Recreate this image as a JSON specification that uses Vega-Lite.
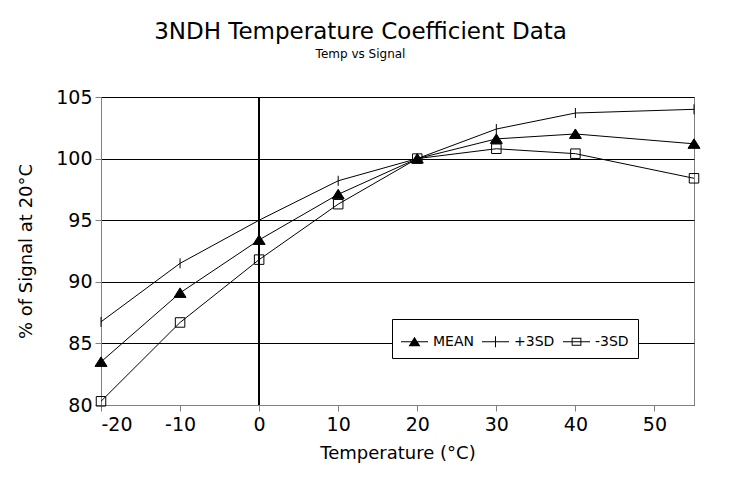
{
  "$schema": "https://vega.github.io/schema/vega-lite/v6.json",
  "width": 593,
  "height": 308,
  "autosize": "none",
  "padding": {"left": 101, "top": 97, "right": 39, "bottom": 90},
  "background": "white",
  "title": {
    "text": "3NDH Temperature Coefficient Data",
    "subtitle": "Temp vs Signal",
    "fontSize": 23,
    "fontWeight": "normal",
    "subtitleFontSize": 12,
    "anchor": "middle",
    "dx": -37,
    "offset": 28,
    "subtitlePadding": 5,
    "color": "black",
    "subtitleColor": "black"
  },
  "data": {
    "values": [
      {"t": -20, "series": "MEAN", "v": 83.5},
      {"t": -10, "series": "MEAN", "v": 89.1},
      {"t": 0, "series": "MEAN", "v": 93.4},
      {"t": 10, "series": "MEAN", "v": 97.1},
      {"t": 20, "series": "MEAN", "v": 100.0},
      {"t": 30, "series": "MEAN", "v": 101.6},
      {"t": 40, "series": "MEAN", "v": 102.0},
      {"t": 55, "series": "MEAN", "v": 101.2},
      {"t": -20, "series": "+3SD", "v": 86.75},
      {"t": -10, "series": "+3SD", "v": 91.5},
      {"t": 0, "series": "+3SD", "v": 95.0},
      {"t": 10, "series": "+3SD", "v": 98.2},
      {"t": 20, "series": "+3SD", "v": 100.0},
      {"t": 30, "series": "+3SD", "v": 102.4},
      {"t": 40, "series": "+3SD", "v": 103.7},
      {"t": 55, "series": "+3SD", "v": 104.0},
      {"t": -20, "series": "-3SD", "v": 80.3},
      {"t": -10, "series": "-3SD", "v": 86.7},
      {"t": 0, "series": "-3SD", "v": 91.8},
      {"t": 10, "series": "-3SD", "v": 96.3},
      {"t": 20, "series": "-3SD", "v": 100.0},
      {"t": 30, "series": "-3SD", "v": 100.8},
      {"t": 40, "series": "-3SD", "v": 100.4},
      {"t": 55, "series": "-3SD", "v": 98.4}
    ]
  },
  "layer": [
    {
      "mark": {"type": "rule", "color": "black", "strokeWidth": 0.9},
      "encoding": {
        "x": {"datum": 0, "type": "quantitative", "scale": {"domain": [-20, 55], "nice": false, "zero": false}}
      }
    },
    {
      "mark": {"type": "line", "color": "black", "strokeWidth": 1},
      "encoding": {
        "x": {"field": "t", "type": "quantitative", "scale": {"domain": [-20, 55], "nice": false, "zero": false},
          "axis": {"values": [-20, -10, 0, 10, 20, 30, 40, 50], "labelExpr": "'' + datum.value", "grid": false, "title": "Temperature (°C)", "labelFontSize": 19, "titleFontSize": 18, "titleFontWeight": "normal", "tickSize": 6, "tickColor": "#808080", "domainColor": "#808080", "labelColor": "black", "titleColor": "black", "labelPadding": 4, "titlePadding": 10}},
        "y": {"field": "v", "type": "quantitative", "scale": {"domain": [80, 105], "nice": false, "zero": false},
          "axis": {"values": [80, 85, 90, 95, 100, 105], "grid": true, "gridColor": "black", "gridWidth": 1, "title": "% of Signal at 20°C", "labelFontSize": 19, "titleFontSize": 18, "titleFontWeight": "normal", "tickSize": 6, "tickColor": "#808080", "domainColor": "#808080", "labelColor": "black", "titleColor": "black", "labelPadding": 3, "titlePadding": 20}},
        "detail": {"field": "series"},
        "order": {"field": "t"}
      }
    },
    {
      "mark": {"type": "point", "opacity": 1, "stroke": "black", "strokeWidth": 1, "size": 100},
      "encoding": {
        "x": {"field": "t", "type": "quantitative"},
        "y": {"field": "v", "type": "quantitative"},
        "shape": {"field": "series", "type": "nominal", "sort": null,
          "scale": {"domain": ["MEAN", "+3SD", "-3SD"], "range": ["M0,-1L1.2,0.9L-1.2,0.9Z", "M0,-1L0,1", "M-0.95,-0.95L0.95,-0.95L0.95,0.95L-0.95,0.95Z"]},
          "legend": null},
        "fill": {"field": "series", "type": "nominal", "sort": null,
          "scale": {"domain": ["MEAN", "+3SD", "-3SD"], "range": ["black", "transparent", "transparent"]},
          "legend": null}
      }
    },
    {
      "transform": [{"filter": "false"}],
      "mark": {"type": "point", "filled": true, "color": "black", "opacity": 1, "strokeWidth": 0},
      "encoding": {
        "x": {"field": "t", "type": "quantitative"},
        "y": {"field": "v", "type": "quantitative"},
        "shape": {"field": "series", "type": "nominal", "sort": null,
          "scale": {"domain": ["MEAN", "+3SD", "-3SD"], "range": [
            "M-1,-0.037L1,-0.037L1,0.037L-1,0.037Z M0,-0.37L0.44,0.33L-0.44,0.33Z",
            "M-1,-0.037L1,-0.037L1,0.037L-1,0.037Z M-0.037,-0.4L0.037,-0.4L0.037,0.4L-0.037,0.4Z",
            "M-1,-0.037L1,-0.037L1,0.037L-1,0.037Z M-0.36,-0.3L0.36,-0.3L0.36,0.3L-0.36,0.3Z M-0.29,-0.23L-0.29,0.23L0.29,0.23L0.29,-0.23Z"
          ]},
          "legend": {"title": null}}
      }
    }
  ],
  "resolve": {
    "scale": {"shape": "independent", "fill": "independent"},
    "legend": {"shape": "independent", "fill": "independent"}
  },
  "config": {
    "font": "DejaVu Sans",
    "view": {"stroke": "#808080", "strokeWidth": 1},
    "legend": {
      "orient": "none",
      "legendX": 291,
      "legendY": 222,
      "direction": "horizontal",
      "symbolSize": 729,
      "symbolFillColor": "black",
      "symbolStrokeWidth": 0,
      "labelFontSize": 14,
      "labelColor": "black",
      "labelOffset": 5,
      "columnPadding": 8,
      "padding": 9,
      "strokeColor": "black",
      "fillColor": "white"
    }
  }
}
